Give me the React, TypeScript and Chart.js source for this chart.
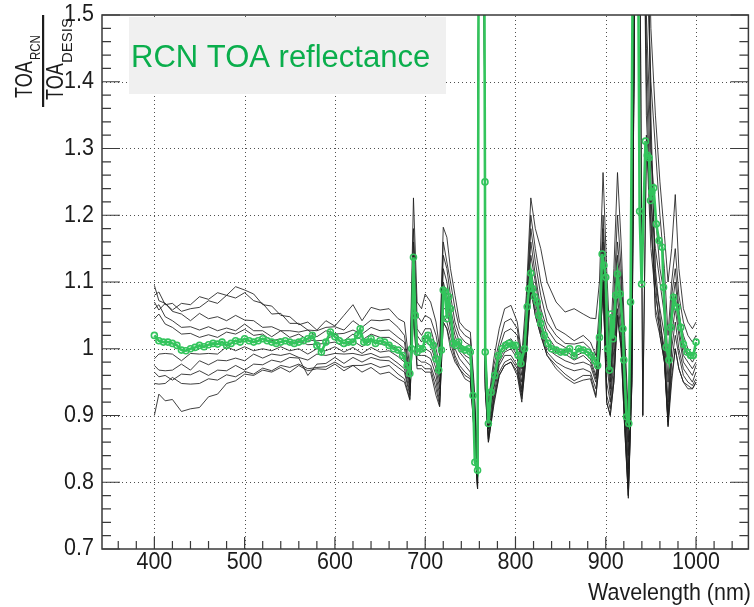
import React, { useEffect, useRef } from 'react';
import { Chart, registerables } from 'chart.js';

Chart.register(...registerables);

// ---- data -------------------------------------------------------------
const wavelengths = [400,405,412,420,430,440,450,460,470,480,490,500,510,520,530,540,550,560,570,580,590,600,610,620,630,640,650,660,670,677,683,687,691,696,700,706,712,716,720,724,728,733,738,744,750,754,758,759.5,765,766.5,770,776,782,788,795,802,807,812,817,822,828,835,845,855,865,875,883,889,893,897,901,905,909,913,917,921,925,929,933,937,941,945,950,955,960,965,969,973,977,981,986,991,996,1000];

const series1 = [1.095,1.072,1.068,1.058,1.068,1.066,1.078,1.074,1.084,1.08,1.093,1.088,1.082,1.066,1.064,1.05,1.048,1.036,1.04,1.028,1.042,1.034,1.05,1.066,1.042,1.062,1.058,1.06,1.045,
  1.04,0.97,1.226,1.07,1.06,1.082,1.07,1.04,1.0,1.182,1.167,1.12,1.08,1.04,1.03,1.025,0.95,0.84,1.8,1.8,1.0,0.92,0.985,1.03,1.06,1.065,1.04,0.99,1.08,1.226,1.18,1.15,1.1,1.07,1.055,1.06,1.052,1.046,1.045,1.1,1.264,1.12,1.0,1.12,1.264,1.16,1.02,0.9,1.1,1.8,1.8,1.8,1.8,1.48,1.35,1.25,1.17,1.1,1.15,1.231,1.12,1.06,1.04,1.03,1.04];
const series2 = [1.08,1.085,1.066,1.068,1.056,1.06,1.062,1.072,1.068,1.08,1.076,1.084,1.072,1.068,1.052,1.053,1.038,1.038,1.028,1.027,1.032,1.033,1.028,1.042,1.032,1.043,1.042,1.044,1.032,
  1.02,0.96,1.18,1.05,1.04,1.05,1.045,1.02,0.99,1.16,1.13,1.1,1.06,1.03,1.02,1.015,0.94,0.83,1.8,1.8,0.99,0.91,0.975,1.01,1.04,1.045,1.03,0.98,1.06,1.2,1.15,1.1,1.06,1.03,1.022,1.012,1.02,1.01,0.99,1.06,1.2,1.08,0.98,1.08,1.2,1.12,1.0,0.88,1.08,1.8,1.8,1.8,1.6,1.4,1.3,1.2,1.12,1.02,1.1,1.15,1.08,1.04,1.02,1.01,1.02];
const series3 = [1.07,1.058,1.068,1.056,1.052,1.042,1.053,1.045,1.048,1.042,1.05,1.043,1.042,1.032,1.033,1.027,1.027,1.025,1.028,1.018,1.027,1.022,1.023,1.028,1.022,1.032,1.027,1.028,1.017,
  1.01,0.955,1.16,1.03,1.02,1.03,1.03,1.0,0.975,1.14,1.12,1.08,1.04,1.02,1.01,1.005,0.93,0.82,1.8,1.8,0.98,0.9,0.965,1.0,1.025,1.03,1.02,0.97,1.05,1.18,1.13,1.08,1.04,1.02,1.008,1.007,1.01,1.0,0.98,1.04,1.18,1.05,0.96,1.05,1.16,1.1,0.98,0.86,1.05,1.8,1.8,0.9,1.3,1.22,1.15,1.1,1.05,0.95,1.06,1.1,1.05,1.02,1.0,0.99,1.0];
const series4 = [1.06,1.066,1.048,1.042,1.032,1.033,1.028,1.033,1.027,1.031,1.027,1.037,1.027,1.027,1.018,1.027,1.017,1.022,1.013,1.012,1.013,1.022,1.012,1.022,1.013,1.022,1.017,1.017,1.008,
  1.0,0.95,1.14,1.02,1.01,1.02,1.015,0.99,0.96,1.12,1.1,1.06,1.03,1.01,1.0,0.995,0.92,0.81,1.8,1.8,0.97,0.89,0.955,0.99,1.01,1.015,1.0,0.96,1.04,1.16,1.11,1.06,1.03,1.01,1.002,0.993,1.0,0.99,0.97,1.03,1.16,1.02,0.95,1.03,1.14,1.08,0.96,0.84,1.03,1.8,1.8,1.8,1.5,1.3,1.2,1.12,1.08,0.98,1.08,1.12,1.06,1.0,0.99,0.98,0.99];
const series5 = [1.045,1.052,1.037,1.032,1.022,1.023,1.017,1.021,1.017,1.025,1.022,1.029,1.02,1.022,1.012,1.015,1.008,1.012,1.006,1.007,1.008,1.01,1.003,1.012,1.003,1.012,1.007,1.007,0.998,
  0.99,0.945,1.12,1.01,1.0,1.01,1.005,0.98,0.95,1.1,1.08,1.05,1.02,1.0,0.99,0.985,0.91,0.8,1.8,1.8,0.96,0.88,0.945,0.985,1.0,1.005,0.99,0.95,1.03,1.14,1.1,1.05,1.02,1.0,0.997,0.988,0.995,0.985,0.96,1.02,1.14,1.0,0.94,1.02,1.12,1.06,0.94,0.82,1.02,1.8,1.8,1.8,1.35,1.18,1.1,1.06,1.02,0.92,1.04,1.08,1.03,0.99,0.98,0.97,0.98];
const series6 = [0.985,0.992,0.993,0.992,0.982,0.993,0.992,0.993,0.992,1.003,0.997,1.003,0.997,1.0,0.997,1.003,0.997,1.0,0.992,1.0,0.997,1.003,0.995,1.002,0.993,1.002,0.995,0.997,0.988,
  0.98,0.94,1.1,1.0,0.995,1.0,0.995,0.97,0.94,1.08,1.07,1.04,1.01,0.995,0.985,0.975,0.9,0.8,1.8,1.8,0.955,0.88,0.94,0.98,0.995,1.0,0.985,0.94,1.02,1.12,1.08,1.04,1.01,0.995,0.992,0.983,0.99,0.98,0.955,1.0,1.12,0.98,0.93,1.0,1.1,1.04,0.92,0.8,1.0,1.8,1.8,0.9,1.32,1.15,1.08,1.04,1.0,0.9,1.02,1.06,1.02,0.98,0.97,0.96,0.975];
const series7 = [0.975,0.968,0.967,0.968,0.977,0.968,0.982,0.976,0.983,0.982,0.986,0.982,0.992,0.986,0.992,0.99,0.993,0.987,0.983,0.992,0.99,0.993,0.992,0.993,0.99,0.993,0.987,0.988,0.978,
  0.97,0.935,1.08,0.99,0.99,0.99,0.985,0.96,0.93,1.06,1.06,1.03,1.0,0.985,0.975,0.965,0.89,0.79,1.8,1.8,0.95,0.87,0.93,0.975,0.99,0.99,0.975,0.935,1.01,1.11,1.07,1.03,1.0,0.99,0.982,0.977,0.98,0.975,0.95,0.99,1.1,0.95,0.92,0.98,1.08,1.02,0.9,0.79,0.98,1.8,1.8,1.8,1.4,1.2,1.06,1.03,0.99,0.89,1.0,1.04,1.0,0.97,0.96,0.95,0.965];
const series8 = [0.965,0.958,0.96,0.953,0.962,0.961,0.967,0.96,0.968,0.967,0.975,0.968,0.977,0.976,0.983,0.98,0.987,0.986,0.96,0.977,0.978,0.987,0.978,0.987,0.98,0.987,0.983,0.982,0.972,
  0.965,0.93,1.06,0.985,0.98,0.98,0.975,0.95,0.92,1.05,1.04,1.02,0.99,0.975,0.965,0.958,0.885,0.795,1.8,1.8,0.945,0.865,0.925,0.965,0.98,0.985,0.97,0.93,1.0,1.1,1.06,1.025,0.995,0.98,0.972,0.967,0.97,0.965,0.94,0.985,1.1,0.93,0.91,0.96,1.06,1.01,0.89,0.78,0.96,1.8,1.8,1.8,1.8,1.3,1.12,1.05,0.98,0.885,0.98,1.02,0.99,0.96,0.95,0.945,0.955];
const series9 = [0.948,0.947,0.948,0.957,0.948,0.947,0.948,0.955,0.953,0.961,0.958,0.966,0.962,0.971,0.967,0.975,0.972,0.977,0.97,0.972,0.973,0.98,0.972,0.975,0.975,0.978,0.972,0.975,0.962,
  0.955,0.925,1.05,0.975,0.975,0.97,0.97,0.94,0.915,1.04,1.03,1.01,0.985,0.97,0.96,0.955,0.88,0.79,1.8,1.8,0.94,0.86,0.92,0.96,0.975,0.98,0.965,0.925,0.99,1.09,1.05,1.02,0.99,0.975,0.962,0.952,0.96,0.96,0.93,0.98,1.1,0.92,0.9,0.95,1.05,1.0,0.88,0.776,0.95,1.8,1.8,1.8,1.8,1.35,1.1,1.02,0.98,0.883,0.95,1.0,0.97,0.95,0.94,0.94,0.95];
const series10 = [0.9,0.932,0.922,0.924,0.906,0.91,0.912,0.928,0.932,0.948,0.952,0.962,0.96,0.968,0.965,0.972,0.965,0.975,0.967,0.97,0.969,0.977,0.967,0.975,0.965,0.972,0.962,0.965,0.955,
  0.95,0.923,1.05,0.97,0.97,0.965,0.965,0.93,0.913,1.04,1.03,1.0,0.98,0.97,0.955,0.95,0.88,0.79,1.8,1.8,0.94,0.86,0.915,0.96,0.975,0.98,0.96,0.92,0.99,1.09,1.05,1.02,0.99,0.97,0.957,0.948,0.953,0.955,0.927,0.98,1.1,0.92,0.9,0.95,1.05,1.0,0.88,0.78,0.95,1.8,1.8,1.8,1.45,1.25,1.05,1.02,0.98,0.89,0.96,1.0,0.97,0.95,0.945,0.94,0.95];

const rcnWavelengths = [400,405,410,415,420,425,430,435,440,445,450,455,460,465,470,475,480,485,490,495,500,505,510,515,520,525,530,535,540,545,550,555,560,565,570,575,580,585,590,595,600,605,610,615,620,625,628,632,636,640,645,650,655,660,665,670,675,680,683,685,687,689,691,694,697,700,703,706,709,712,715,718,720,722,724,726,728,731,734,737,740,744,748,750,753,755,758,759.5,765,766.2,766.5,770,773,777,781,785,789,793,797,800,803,806,810,813,815,817,819,821,824,826,828,832,836,840,845,850,855,860,865,870,875,880,884,888,891,893,896,898,900,902,904,906,908,911,913,916,919,920,923,925.5,927.5,931,935,937.5,939.7,944,946,948,949.6,951,953,956,959,962.5,964,967,970,972,975,979,983,986,990,994,997,1000];
const rcnValues = [1.02,1.012,1.01,1.01,1.008,1.005,0.998,0.997,1.0,1.002,1.005,1.003,1.006,1.008,1.007,1.01,1.005,1.008,1.012,1.01,1.015,1.012,1.01,1.012,1.015,1.012,1.01,1.008,1.01,1.012,1.01,1.008,1.01,1.012,1.015,1.02,1.005,0.995,1.01,1.025,1.018,1.012,1.008,1.01,1.01,1.02,1.03,1.01,1.01,1.015,1.008,1.012,1.01,1.005,1.0,0.998,0.99,0.975,0.963,1.0,1.137,1.05,0.995,1.0,1.0,1.015,1.02,1.01,1.005,0.985,0.968,0.998,1.088,1.085,1.045,1.078,1.06,1.008,1.005,1.01,1.0,0.998,1.0,0.995,0.93,0.83,0.818,1.8,1.8,1.25,0.995,0.888,0.935,0.96,0.99,1.0,1.005,1.008,1.005,1.005,0.99,0.978,1.0,1.063,1.09,1.113,1.09,1.078,1.07,1.05,1.038,1.02,1.008,1.0,0.998,0.995,0.995,1.0,0.99,1.0,0.998,0.995,0.99,0.982,0.975,1.017,1.142,1.125,1.107,1.0,0.968,1.052,1.015,1.08,1.112,1.082,1.03,0.983,0.898,0.888,1.07,1.8,1.8,1.206,1.097,1.311,1.29,1.286,1.222,1.235,1.241,1.187,1.162,1.152,1.092,1.002,0.983,1.032,1.077,1.062,1.032,1.007,0.995,0.99,0.99,1.01];

const xTickValues = [400, 500, 600, 700, 800, 900, 1000];
const xTickLabels = ['400', '500', '600', '700', '800', '900', '1000'];
const yTickValues = [0.7, 0.8, 0.9, 1.0, 1.1, 1.2, 1.3, 1.4, 1.5];
const yTickLabels = ['0.7', '0.8', '0.9', '1', '1.1', '1.2', '1.3', '1.4', '1.5'];
const xAxisTitle = 'Wavelength (nm)';
const legendText = 'RCN TOA reflectance';

const blackSeries = [series1, series2, series3, series4, series5, series6, series7, series8, series9, series10];

// ---- styling ----------------------------------------------------------
const FONT = '"Liberation Sans", Arial, Helvetica, sans-serif';
const GREEN_LINE = '#33c45c';
const GREEN_TEXT = '#0aae4c';
const AXIS = '#3a3a3a';

function stretchedText(ctx: CanvasRenderingContext2D, s: string, x: number, y: number, align: CanvasTextAlign, size: number, sy: number) {
  ctx.save();
  ctx.translate(x, y);
  ctx.scale(1, sy);
  ctx.font = `${size}px ${FONT}`;
  ctx.textAlign = align;
  ctx.textBaseline = 'middle';
  ctx.fillText(s, 0, 0);
  ctx.restore();
}

function rotatedText(ctx: CanvasRenderingContext2D, s: string, x: number, y: number, size: number, sy: number) {
  ctx.save();
  ctx.translate(x, y);
  ctx.rotate(-Math.PI / 2);
  ctx.scale(1, sy);
  ctx.font = `${size}px ${FONT}`;
  ctx.textAlign = 'left';
  ctx.textBaseline = 'alphabetic';
  ctx.fillText(s, 0, 0);
  ctx.restore();
}

const rootPlugin = {
  id: 'rootStyle',
  beforeDatasetsDraw(chart: any) {
    const { ctx, chartArea: a } = chart;
    const xs = chart.scales.x;
    const ys = chart.scales.y;
    ctx.save();
    ctx.strokeStyle = '#505050';
    ctx.lineWidth = 1;
    ctx.setLineDash([1, 3]);
    for (const v of xTickValues) {
      const px = Math.round(xs.getPixelForValue(v)) + 0.5;
      ctx.beginPath();
      ctx.moveTo(px, a.bottom);
      ctx.lineTo(px, a.top);
      ctx.stroke();
    }
    for (const v of yTickValues) {
      if (v <= 0.7 || v >= 1.5) continue;
      const py = Math.round(ys.getPixelForValue(v)) + 0.5;
      ctx.beginPath();
      ctx.moveTo(a.left, py);
      ctx.lineTo(a.right, py);
      ctx.stroke();
    }
    ctx.restore();
  },
  afterDatasetsDraw(chart: any) {
    const { ctx, chartArea: a } = chart;
    const xs = chart.scales.x;
    const ys = chart.scales.y;
    ctx.save();
    // frame
    ctx.strokeStyle = AXIS;
    ctx.lineWidth = 1.5;
    ctx.strokeRect(a.left, a.top, a.right - a.left, a.bottom - a.top);

    // ticks
    ctx.lineWidth = 1.2;
    ctx.beginPath();
    for (let k = 18; k <= 52; k++) {
      const v = k * 20;
      const px = xs.getPixelForValue(v);
      const len = v % 100 === 0 ? 12 : 8;
      ctx.moveTo(px, a.bottom);
      ctx.lineTo(px, a.bottom - len);
    }
    for (let k = 35; k <= 75; k++) {
      const v = k / 50;
      const py = ys.getPixelForValue(v);
      const major = k % 5 === 0;
      const len = major ? 18 : 9;
      ctx.moveTo(a.left, py);
      ctx.lineTo(a.left + len, py);
      ctx.moveTo(a.right, py);
      ctx.lineTo(a.right - len, py);
    }
    ctx.stroke();

    // tick labels
    ctx.fillStyle = '#1c1c1c';
    xTickValues.forEach((v, i) => {
      stretchedText(ctx, xTickLabels[i], xs.getPixelForValue(v), 563, 'center', 21.5, 1.08);
    });
    yTickValues.forEach((v, i) => {
      stretchedText(ctx, yTickLabels[i], 94, ys.getPixelForValue(v), 'right', 21.5, 1.08);
    });
    // x title
    stretchedText(ctx, xAxisTitle, 751, 594, 'right', 21.5, 1.08);

    // y title: fraction TOA_RCN / TOA_DESIS
    rotatedText(ctx, 'TOA', 32, 98, 18, 1.3);
    rotatedText(ctx, 'RCN', 40, 60, 11.5, 1.25);
    ctx.fillRect(42, 15, 2.2, 92);
    rotatedText(ctx, 'TOA', 63, 100, 18, 1.3);
    rotatedText(ctx, 'DESIS', 72, 63, 15, 0.95);

    // legend box
    ctx.fillStyle = '#f0f0f0';
    ctx.fillRect(129, 17, 317, 77);
    ctx.fillStyle = GREEN_TEXT;
    ctx.font = `31px ${FONT}`;
    ctx.textAlign = 'left';
    ctx.textBaseline = 'alphabetic';
    ctx.fillText(legendText, 131, 67);
    ctx.restore();
  },
};

export default function App() {
  const ref = useRef<HTMLCanvasElement>(null);
  useEffect(() => {
    document.body.style.margin = '0';
    const datasets: any[] = [
      {
        label: legendText,
        data: rcnWavelengths.map((w, i) => ({ x: w, y: rcnValues[i] })),
        borderColor: GREEN_LINE,
        borderWidth: 2.6,
        pointRadius: 3,
        pointBorderWidth: 1.6,
        pointBorderColor: GREEN_LINE,
        pointBackgroundColor: 'rgba(255,255,255,0)',
        pointStyle: 'circle',
        tension: 0,
        order: 0,
      },
      ...blackSeries.map((s, k) => ({
        label: `detector ${k + 1}`,
        data: wavelengths.map((w, i) => ({ x: w, y: s[i] })),
        borderColor: 'rgba(30,30,30,0.85)',
        borderWidth: 1,
        pointRadius: 0,
        tension: 0,
        order: 1,
      })),
    ];
    const chart = new Chart(ref.current as HTMLCanvasElement, {
      type: 'line',
      data: { datasets },
      options: {
        responsive: false,
        animation: false,
        devicePixelRatio: 1,
        events: [],
        layout: { padding: { left: 102, right: 2, top: 15, bottom: 58 } },
        scales: {
          x: { type: 'linear', min: 342, max: 1058, display: false },
          y: { type: 'linear', min: 0.7, max: 1.5, display: false },
        },
        plugins: { legend: { display: false }, tooltip: { enabled: false } },
      },
      plugins: [rootPlugin],
    } as any);
    return () => chart.destroy();
  }, []);
  return <canvas ref={ref} width={754} height={607} style={{ display: 'block' }} />;
}
